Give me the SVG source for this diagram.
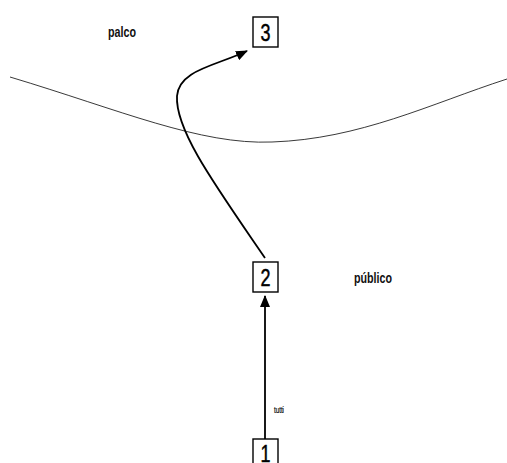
<svg xmlns="http://www.w3.org/2000/svg" width="507" height="463" viewBox="0 0 507 463">
  <style>
    .box { fill: #fff; stroke: #000; stroke-width: 1.4; }
    .num { font-family: "Liberation Sans", Arial, sans-serif; font-size: 24px; fill: #000; stroke: #000; stroke-width: 0.5; text-anchor: middle; }
    .lbl { font-family: "Liberation Sans", Arial, sans-serif; font-size: 15px; font-weight: bold; fill: #111; }
    .small { font-family: "Liberation Sans", Arial, sans-serif; font-size: 9px; fill: #000; stroke: #000; stroke-width: 0.2; }
    .edge { fill: none; stroke: #000; stroke-width: 1.8; marker-end: url(#head); }
    .divider { fill: none; stroke: #222; stroke-width: 0.9; }
  </style>
  <defs>
    <marker id="head" viewBox="0 0 12 10" refX="11" refY="5" markerWidth="12" markerHeight="10" markerUnits="userSpaceOnUse" orient="auto">
      <path d="M0,0 L12,5 L0,10 Z" fill="#000"/>
    </marker>
  </defs>

  <rect width="507" height="463" fill="#fff"/>

  <!-- stage / audience dividing line -->
  <path class="divider" d="M10,77 C 120,110 200,145 272,142 C 360,139 430,104 507,79"/>

  <text class="lbl" x="108" y="37" textLength="28" lengthAdjust="spacingAndGlyphs">palco</text>
  <text class="lbl" x="354" y="283" textLength="38" lengthAdjust="spacingAndGlyphs">público</text>

  <g id="connectors">
    <path class="edge" d="M265,439 L265,296"/>
    <text class="small" x="274" y="413" textLength="10" lengthAdjust="spacingAndGlyphs">tutti</text>
    <path class="edge" d="M265,258 C 215,185 175,130 177,96 C 179,70 215,66 247,51"/>
  </g>

  <g id="node3">
    <rect class="box" x="253" y="17" width="25" height="30"/>
    <text class="num" x="265.5" y="41" textLength="10" lengthAdjust="spacingAndGlyphs">3</text>
  </g>
  <g id="node2">
    <rect class="box" x="253" y="262" width="25" height="30"/>
    <text class="num" x="265.5" y="286" textLength="10" lengthAdjust="spacingAndGlyphs">2</text>
  </g>
  <g id="node1">
    <rect class="box" x="253" y="439" width="25" height="30"/>
    <text class="num" x="265.5" y="462" textLength="10" lengthAdjust="spacingAndGlyphs">1</text>
  </g>
</svg>
